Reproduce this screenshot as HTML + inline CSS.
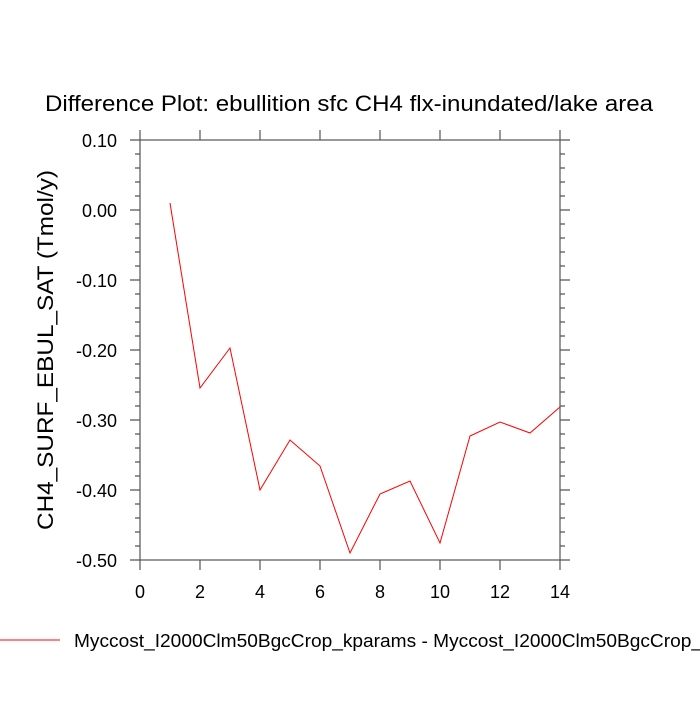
<!DOCTYPE html>
<html><head><meta charset="utf-8"><style>body{margin:0;background:#fff}</style></head>
<body>
<svg width="700" height="700" xmlns="http://www.w3.org/2000/svg" font-family="Liberation Sans, sans-serif">
<rect width="700" height="700" fill="#fff"/>
<text x="349" y="111" font-size="22" text-anchor="middle" textLength="608" lengthAdjust="spacingAndGlyphs">Difference Plot: ebullition sfc CH4 flx-inundated/lake area</text>
<g stroke="#555" stroke-width="1.2" fill="none">
<rect x="140" y="140" width="420" height="420"/>
<path d="
M130 140H140 M130 210H140 M130 280H140 M130 350H140 M130 420H140 M130 490H140 M130 560H140
M560 140H570 M560 210H570 M560 280H570 M560 350H570 M560 420H570 M560 490H570 M560 560H570
M135 154H140 M135 168H140 M135 182H140 M135 196H140 M135 224H140 M135 238H140 M135 252H140 M135 266H140 M135 294H140 M135 308H140 M135 322H140 M135 336H140 M135 364H140 M135 378H140 M135 392H140 M135 406H140 M135 434H140 M135 448H140 M135 462H140 M135 476H140 M135 504H140 M135 518H140 M135 532H140 M135 546H140
M560 154H565 M560 168H565 M560 182H565 M560 196H565 M560 224H565 M560 238H565 M560 252H565 M560 266H565 M560 294H565 M560 308H565 M560 322H565 M560 336H565 M560 364H565 M560 378H565 M560 392H565 M560 406H565 M560 434H565 M560 448H565 M560 462H565 M560 476H565 M560 504H565 M560 518H565 M560 532H565 M560 546H565
M140 560V570 M200 560V570 M260 560V570 M320 560V570 M380 560V570 M440 560V570 M500 560V570 M560 560V570
M140 130V140 M200 130V140 M260 130V140 M320 130V140 M380 130V140 M440 130V140 M500 130V140 M560 130V140"/>
</g>
<g font-size="18" text-anchor="end">
<text x="117" y="147">0.10</text><text x="117" y="217">0.00</text><text x="117" y="287">-0.10</text><text x="117" y="357">-0.20</text><text x="117" y="427">-0.30</text><text x="117" y="497">-0.40</text><text x="117" y="567">-0.50</text>
</g>
<g font-size="18" text-anchor="middle">
<text x="140" y="598">0</text><text x="200" y="598">2</text><text x="260" y="598">4</text><text x="320" y="598">6</text><text x="380" y="598">8</text><text x="440" y="598">10</text><text x="500" y="598">12</text><text x="560" y="598">14</text>
</g>
<text transform="translate(53,350) rotate(-90)" font-size="22" text-anchor="middle" textLength="360" lengthAdjust="spacingAndGlyphs">CH4_SURF_EBUL_SAT  (Tmol/y)</text>
<polyline fill="none" stroke="#f00" stroke-width="1" points="170,203 200,388 230,348 260,490 290,440 320,466 350,553 380,494 410,481 440,543 470,436 500,422 530,433 560,407"/>
<line x1="0" y1="640" x2="60" y2="640" stroke="#f00" stroke-width="1"/>
<text x="74" y="647" font-size="18" textLength="628" lengthAdjust="spacingAndGlyphs">Myccost_I2000Clm50BgcCrop_kparams - Myccost_I2000Clm50BgcCrop_</text>
</svg>
</body></html>
